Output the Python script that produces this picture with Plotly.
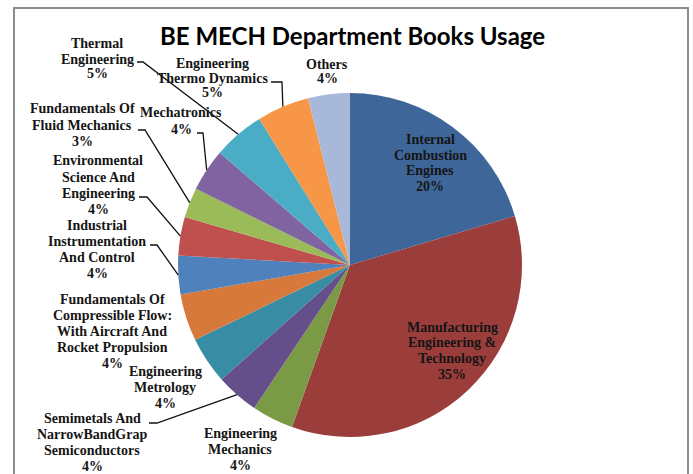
import plotly.graph_objects as go
import math

W, H = 693, 474

# ---- data ----
labels = [
    "Internal Combustion Engines",
    "Manufacturing Engineering & Technology",
    "Engineering Mechanics",
    "Semimetals And NarrowBandGrap Semiconductors",
    "Engineering Metrology",
    "Fundamentals Of Compressible Flow: With Aircraft And Rocket Propulsion",
    "Industrial Instrumentation And Control",
    "Environmental Science And Engineering",
    "Fundamentals Of Fluid Mechanics",
    "Mechatronics",
    "Thermal Engineering",
    "Engineering Thermo Dynamics",
    "Others",
]
values = [20.3, 34.9, 3.9, 4.0, 4.4, 4.4, 3.6, 3.6, 2.8, 4.0, 4.8, 4.9, 3.9]
label_lines = [
    ["Internal", "Combustion", "Engines"],
    ["Manufacturing", "Engineering &", "Technology"],
    ["Engineering", "Mechanics"],
    ["Semimetals And", "NarrowBandGrap", "Semiconductors"],
    ["Engineering", "Metrology"],
    ["Fundamentals Of", "Compressible Flow:", "With Aircraft And", "Rocket Propulsion"],
    ["Industrial", "Instrumentation", "And Control"],
    ["Environmental", "Science And", "Engineering"],
    ["Fundamentals Of", "Fluid Mechanics"],
    ["Mechatronics"],
    ["Thermal", "Engineering"],
    ["Engineering", "Thermo Dynamics"],
    ["Others"],
]
colors = ["#3E6699", "#9B3D3B", "#7A9A45", "#654F8A", "#388DA4", "#D6793A",
          "#4F81BD", "#C0504D", "#9BBB59", "#8064A2", "#4BACC6", "#F79646", "#A8B8D8"]

# ---- layout (pixel positions of label blocks and leader lines) ----
cx_px, cy_px, R = 350, 265, 172
label_pos = [  # (center x, first line y, line spacing)
    (430, 139, 16), (452, 327, 15.7), (240, 433, 16), (92, 418, 16),
    (165, 371, 16), (112, 299, 16), (97, 225, 16), (98, 161, 16),
    (82, 109, 16), (181, 113, 16), (97, 44, 15), (212, 63, 15), (327, 64, 15),
]
leaders = {  # label index -> (start x, start y, elbow x, elbow y)
    3: (149, 423, 157, 423),
    6: (150, 245, 157, 245),
    7: (139, 197, 147, 197),
    8: (138, 130, 145, 130),
    9: (197, 133, 203, 133),
    10: (137, 62, 143, 62),
    11: (271, 82, 282, 82),
}

def px(x):
    return x / W

def py(y):
    return 1 - y / H

fig = go.Figure(go.Pie(
    labels=labels, values=values, sort=False, direction="clockwise", rotation=0,
    marker=dict(colors=colors, line=dict(width=0)),
    textinfo="none", hoverinfo="label+percent", showlegend=False,
    domain=dict(x=[px(cx_px - R), px(cx_px + R)], y=[py(cy_px + R), py(cy_px - R)]),
))

total = sum(values)
pct = [f"{round(v / total * 100)}%" for v in values]

annotations = []
shapes = []
cum = 0.0
for i, v in enumerate(values):
    mid = (cum + v / 2) / total * 2 * math.pi
    cum += v
    ex = cx_px + R * math.sin(mid)
    ey = cy_px - R * math.cos(mid)
    lx, ly, sp = label_pos[i]
    lines = label_lines[i] + [pct[i]]
    for k, t in enumerate(lines):
        annotations.append(dict(
            x=px(lx), y=py(ly + k * sp), xref="paper", yref="paper",
            text=f"<b>{t}</b>", showarrow=False, xanchor="center", yanchor="middle",
            font=dict(family="Liberation Serif", size=14, color="#151515"),
        ))
    if i in leaders:
        x0, y0, x1, y1 = leaders[i]
        path = f"M {px(x0)} {py(y0)} L {px(x1)} {py(y1)} L {px(ex)} {py(ey)}"
        shapes.append(dict(type="path", xref="paper", yref="paper", path=path,
                           line=dict(color="#111111", width=1.3)))

annotations.append(dict(
    x=px(352), y=py(36), xref="paper", yref="paper", text="<b>BE MECH Department Books Usage</b>",
    showarrow=False, xanchor="center", yanchor="middle",
    font=dict(family="Lato", size=24, color="#000000"),
))
shapes.append(dict(type="rect", xref="paper", yref="paper",
                   x0=px(14), y0=py(490), x1=px(688), y1=py(8),
                   line=dict(color="#8C8C8C", width=2)))

fig.update_layout(
    width=W, height=H, margin=dict(l=0, r=0, t=0, b=0),
    paper_bgcolor="white", plot_bgcolor="white",
    annotations=annotations, shapes=shapes,
)
fig.write_html("out.html")
